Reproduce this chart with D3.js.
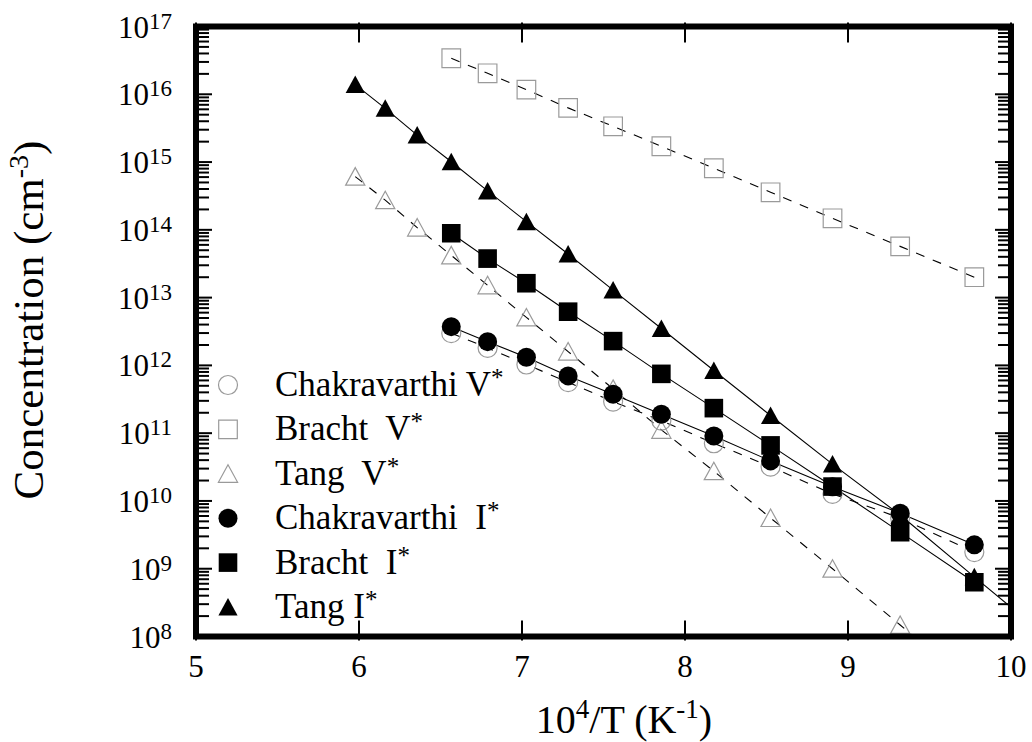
<!DOCTYPE html>
<html>
<head>
<meta charset="utf-8">
<script src="https://cdn.jsdelivr.net/npm/d3@7"></script>
<style>
body{margin:0;background:#fff;}
text{font-family:"Liberation Serif","Times New Roman",serif;fill:#000;}
</style>
</head>
<body>
<div id="canvas"></div>
<script>
// 10^4/T values (K^-1), shared by all series
var xVals = [5.977, 6.161, 6.357, 6.566, 6.789, 7.027, 7.283, 7.559, 7.855, 8.177, 8.525, 8.905, 9.320, 9.775, 10.277];

// concentrations (cm^-3)
var chakV  = [2.99e12, 1.81e12, 1.03e12, 5.65e11, 2.92e11, 1.53e11, 7.1e10, 3.2e10, 1.27e10, 5.6e9, 1.76e9];
var brachtV = [3.4e16, 2.04e16, 1.17e16, 6.3e15, 3.37e15, 1.71e15, 8.1e14, 3.58e14, 1.48e14, 5.7e13, 2.0e13];
var tangV  = [6.1e14, 2.74e14, 1.08e14, 4.2e13, 1.52e13, 5.1e12, 1.6e12, 4.5e11, 1.12e11, 2.75e10, 5.6e9, 1.0e9, 1.48e8, 1.8e7];
var chakI  = [3.73e12, 2.24e12, 1.32e12, 7.0e11, 3.76e11, 1.9e11, 9.1e10, 3.9e10, 1.62e10, 6.6e9, 2.25e9];
var brachtI = [8.9e13, 3.76e13, 1.63e13, 6.2e12, 2.28e12, 7.5e11, 2.34e11, 6.6e10, 1.63e10, 3.47e9, 6.3e8];
var tangI  = [1.39e16, 6.2e15, 2.5e15, 1.01e15, 3.75e14, 1.32e14, 4.4e13, 1.29e13, 3.5e12, 8.4e11, 1.82e11, 3.5e10, 6.2e9, 7.6e8, 7.6e7];

// first x index of each series
var startIdx = [3, 3, 0, 3, 3, 0];
var seriesNames = ['Chakravarthi V', 'Bracht  V', 'Tang  V', 'Chakravarthi  I', 'Bracht  I', 'Tang I'];

var xTicks = [5, 6, 7, 8, 9, 10];
var yExponents = [8, 9, 10, 11, 12, 13, 14, 15, 16, 17];

var W = 1032, H = 742;
var m = {t:26.5, r:21, b:105.5, l:196};

var svg = d3.select('#canvas')
    .append('svg')
    .attr('width', W)
    .attr('height', H);

var x = d3.scaleLinear().domain([5, 10]).range([m.l, W - m.r]);
var y = d3.scaleLog().domain([1e8, 1e17]).range([H - m.b, m.t]);

svg.append('clipPath').attr('id','clip')
    .append('rect')
    .attr('x', x(5)).attr('y', y(1e17))
    .attr('width', x(10) - x(5)).attr('height', y(1e8) - y(1e17));

var series = [chakV, brachtV, tangV, chakI, brachtI, tangI].map(function(vals, i){
    return {
        name: seriesNames[i],
        shape: ['circle','square','triangle'][i % 3],
        filled: i >= 3,
        pts: vals.map(function(v, j){ return [xVals[startIdx[i] + j], v]; })
    };
});

function marker(shape){
    if (shape === 'circle') return 'M-9.5,0A9.5,9.5 0 1,0 9.5,0A9.5,9.5 0 1,0 -9.5,0Z';
    if (shape === 'square') return 'M-9.3,-9.3H9.3V9.3H-9.3Z';
    return 'M0,-9L9.6,8.5H-9.6Z';
}

var line = d3.line()
    .x(function(d){ return x(d[0]); })
    .y(function(d){ return y(d[1]); });

var plot = svg.append('g').attr('clip-path','url(#clip)');

// lines
plot.selectAll('.line')
    .data(series)
    .enter()
    .append('path').attr('class','line')
    .attr('d', function(d){ return line(d.pts); })
    .style('fill','none')
    .style('stroke','#000')
    .style('stroke-width','1.1px')
    .style('stroke-dasharray', function(d){ return d.filled ? null : '9,9'; });

// open markers first, filled on top
var order = series.filter(function(s){ return !s.filled; }).concat(series.filter(function(s){ return s.filled; }));
order.forEach(function(s){
    plot.selectAll(null)
        .data(s.pts)
        .enter()
        .append('path')
        .attr('transform', function(d){ return 'translate(' + x(d[0]) + ',' + y(d[1]) + ')'; })
        .attr('d', marker(s.shape))
        .style('fill', s.filled ? '#000' : 'none')
        .style('stroke', s.filled ? 'none' : '#9a9a9a')
        .style('stroke-width', '1.2px');
});

// ticks
var ticks = svg.append('g').style('stroke','#000');
y.ticks().forEach(function(v){
    var major = Math.abs(Math.log10(v) - Math.round(Math.log10(v))) < 1e-9;
    var len = major ? 16 : 13;
    ticks.append('line')
        .attr('x1', x(5) - 3).attr('x2', x(5) + len)
        .attr('y1', y(v)).attr('y2', y(v))
        .style('stroke-width', '2px');
    ticks.append('line')
        .attr('x1', x(10) + 3).attr('x2', x(10) - len)
        .attr('y1', y(v)).attr('y2', y(v))
        .style('stroke-width', '2px');
});
xTicks.forEach(function(t){
    ticks.append('line')
        .attr('x1', x(t)).attr('x2', x(t))
        .attr('y1', y(1e17) - 4).attr('y2', y(1e17) + 16)
        .style('stroke-width', '2px');
    ticks.append('line')
        .attr('x1', x(t)).attr('x2', x(t))
        .attr('y1', y(1e8) + 4).attr('y2', y(1e8) - 16)
        .style('stroke-width', '2px');
});

// frame
svg.append('rect')
    .attr('x', x(5)).attr('y', y(1e17))
    .attr('width', x(10) - x(5)).attr('height', y(1e8) - y(1e17))
    .style('fill','none')
    .style('stroke','#000')
    .style('stroke-width','6px');

// y tick labels
var yl = svg.append('g').selectAll('text')
    .data(yExponents)
    .enter()
    .append('text')
    .attr('x', 172)
    .attr('y', function(d){ return y(Math.pow(10, d)) + 11; })
    .attr('text-anchor','end');
yl.append('tspan').text('10').style('font-size','31px');
yl.append('tspan').text(function(d){ return d; }).attr('dy', -9).style('font-size','23px');

// x tick labels
svg.append('g').selectAll('text')
    .data(xTicks)
    .enter()
    .append('text')
    .attr('x', function(d){ return x(d); })
    .attr('y', 677)
    .attr('text-anchor','middle')
    .style('font-size','31px')
    .text(function(d){ return d; });

// axis titles
var xt = svg.append('text')
    .attr('x', 624).attr('y', 733)
    .attr('text-anchor','middle')
    .style('font-size','40px');
xt.append('tspan').text('10');
xt.append('tspan').text('4').attr('dy', -15).style('font-size','27px');
xt.append('tspan').text('/T (K').attr('dy', 15);
xt.append('tspan').text('-1').attr('dy', -15).style('font-size','27px');
xt.append('tspan').text(')').attr('dy', 15);

var yt = svg.append('text')
    .attr('transform','translate(43,320) rotate(-90)')
    .attr('text-anchor','middle')
    .style('font-size','43px');
yt.append('tspan').text('Concentration (cm');
yt.append('tspan').text('-3').attr('dy', -15).style('font-size','28px');
yt.append('tspan').text(')').attr('dy', 15);

// legend
var leg = svg.append('g').selectAll('g')
    .data(series)
    .enter()
    .append('g')
    .attr('transform', function(d, i){ return 'translate(228,' + (385 + i * 44.4) + ')'; });
leg.append('path')
    .attr('d', function(d){ return marker(d.shape); })
    .style('fill', function(d){ return d.filled ? '#000' : 'none'; })
    .style('stroke', function(d){ return d.filled ? 'none' : '#9a9a9a'; })
    .style('stroke-width', '1.2px');
var lt = leg.append('text')
    .attr('x', 47).attr('y', 11)
    .style('font-size','35px')
    .style('white-space','pre');
lt.append('tspan').text(function(d){ return d.name; });
lt.append('tspan').text('*').attr('dy', -10).style('font-size','25px');
</script>
</body>
</html>
